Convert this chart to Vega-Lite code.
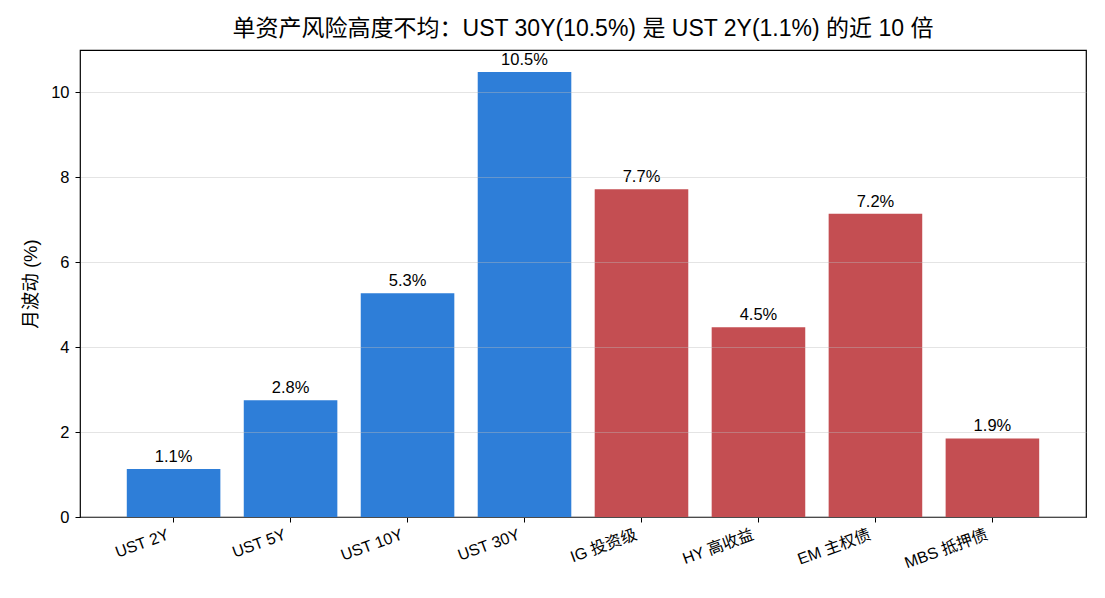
{
  "$schema": "https://vega.github.io/schema/vega-lite/v6.json",
  "autosize": "none",
  "width": 1006,
  "height": 467,
  "padding": {"left": 80, "top": 50, "right": 19, "bottom": 81},
  "background": "white",
  "config": {
    "font": "Liberation Sans, Noto Sans CJK SC",
    "view": {"stroke": "black", "strokeWidth": 1.2},
    "axis": {
      "labelFont": "Liberation Sans, Noto Sans CJK SC",
      "titleFont": "Liberation Sans, Noto Sans CJK SC",
      "labelColor": "black",
      "titleColor": "black",
      "domainColor": "black",
      "tickColor": "black",
      "labelFontSize": 16,
      "titleFontSize": 18.5,
      "titleFontWeight": "normal",
      "tickSize": 5
    }
  },
  "title": {
    "text": "单资产风险高度不均：UST 30Y(10.5%) 是 UST 2Y(1.1%) 的近 10 倍",
    "fontSize": 23,
    "fontWeight": "normal",
    "font": "Liberation Sans, Noto Sans CJK SC",
    "color": "black",
    "offset": 9
  },
  "data": {
    "values": [
      {"asset": "UST 2Y", "vol": 1.13, "label": "1.1%", "group": "rates"},
      {"asset": "UST 5Y", "vol": 2.75, "label": "2.8%", "group": "rates"},
      {"asset": "UST 10Y", "vol": 5.27, "label": "5.3%", "group": "rates"},
      {"asset": "UST 30Y", "vol": 10.48, "label": "10.5%", "group": "rates"},
      {"asset": "IG 投资级", "vol": 7.72, "label": "7.7%", "group": "credit"},
      {"asset": "HY 高收益", "vol": 4.47, "label": "4.5%", "group": "credit"},
      {"asset": "EM 主权债", "vol": 7.14, "label": "7.2%", "group": "credit"},
      {"asset": "MBS 抵押债", "vol": 1.85, "label": "1.9%", "group": "credit"}
    ]
  },
  "encoding": {
    "x": {
      "field": "asset",
      "type": "nominal",
      "sort": null,
      "scale": {"paddingInner": 0.2, "paddingOuter": 0.4},
      "axis": {"title": null, "labelAngle": -20, "labelAlign": "right", "labelBaseline": "top", "labelPadding": 4, "labelOffset": -8, "domain": false, "grid": false}
    },
    "y": {
      "field": "vol",
      "type": "quantitative",
      "scale": {"domain": [0, 11], "nice": false},
      "axis": {"title": "月波动 (%)", "values": [0, 2, 4, 6, 8, 10], "grid": true, "gridColor": "#bbbbbb", "gridOpacity": 0.4, "domain": false, "zindex": 1, "titlePadding": 10, "labelPadding": 6, "labelFontSize": 16.5}
    }
  },
  "layer": [
    {
      "mark": {"type": "bar"},
      "encoding": {
        "color": {
          "field": "group",
          "type": "nominal",
          "scale": {"domain": ["rates", "credit"], "range": ["#2E7ED8", "#C44E52"]},
          "legend": null
        }
      }
    },
    {
      "mark": {"type": "text", "baseline": "alphabetic", "dy": -7, "fontSize": 16.5, "color": "black"},
      "encoding": {"text": {"field": "label"}}
    }
  ]
}
